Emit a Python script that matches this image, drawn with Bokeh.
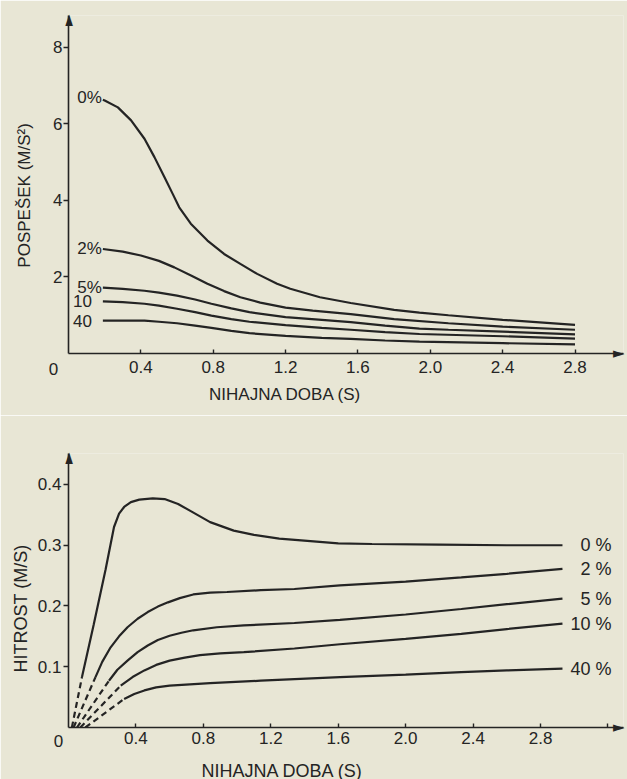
import math
from bokeh.plotting import figure
from bokeh.layouts import column
from bokeh.models import FixedTicker, Label, ColumnDataSource, Range1d
from bokeh.core.properties import value
from bokeh.embed import file_html
from bokeh.resources import INLINE

# ---------------- data: top chart (acceleration, POSPESEK) ----------------
acc_series = ["0%", "2%", "5%", "10", "40"]
acc_t_0 = [0.19, 0.2, 0.273, 0.346, 0.42, 0.475, 0.53, 0.576, 0.612, 0.676, 0.768, 0.86,
           0.95, 1.043, 1.153, 1.226, 1.39, 1.56, 1.8, 1.94, 2.1, 2.4, 2.8]
acc_v_0 = [6.63, 6.61, 6.43, 6.09, 5.61, 5.13, 4.61, 4.17, 3.82, 3.39, 2.95, 2.60,
           2.34, 2.08, 1.82, 1.69, 1.47, 1.32, 1.14, 1.07, 1.0, 0.88, 0.75]
acc_t_2 = [0.19, 0.3, 0.4, 0.5, 0.585, 0.68, 0.768, 0.86, 0.95, 1.06, 1.2, 1.35, 1.56,
           1.8, 2.1, 2.4, 2.8]
acc_v_2 = [2.73, 2.66, 2.56, 2.42, 2.25, 2.03, 1.82, 1.63, 1.47, 1.33, 1.2, 1.12, 1.03,
           0.9, 0.79, 0.70, 0.62]
acc_t_5 = [0.19, 0.3, 0.42, 0.5, 0.6, 0.7, 0.79, 0.9, 1.0, 1.2, 1.4, 1.56, 1.75, 1.94,
           2.1, 2.4, 2.8]
acc_v_5 = [1.72, 1.69, 1.64, 1.59, 1.51, 1.41, 1.30, 1.18, 1.08, 0.95, 0.88, 0.82, 0.73,
           0.65, 0.62, 0.57, 0.50]
acc_t_10 = [0.19, 0.3, 0.42, 0.5, 0.6, 0.7, 0.79, 0.9, 1.0, 1.2, 1.4, 1.56, 1.75, 1.94,
            2.4, 2.8]
acc_v_10 = [1.36, 1.34, 1.30, 1.25, 1.17, 1.08, 0.99, 0.90, 0.83, 0.74, 0.67, 0.62, 0.56,
            0.51, 0.45, 0.39]
acc_t_40 = [0.19, 0.3, 0.42, 0.5, 0.6, 0.7, 0.79, 0.9, 1.0, 1.2, 1.4, 1.56, 1.75, 1.94,
            2.4, 2.8]
acc_v_40 = [0.86, 0.86, 0.86, 0.83, 0.79, 0.73, 0.67, 0.59, 0.53, 0.46, 0.41, 0.38, 0.34,
            0.31, 0.27, 0.24]

acc_x_ticks = [0.4, 0.8, 1.2, 1.6, 2.0, 2.4, 2.8]
acc_x_tick_labels = ["0.4", "0.8", "1.2", "1.6", "2.0", "2.4", "2.8"]
acc_y_ticks = [2, 4, 6, 8]
acc_y_tick_labels = ["2", "4", "6", "8"]
acc_x_title = "NIHAJNA DOBA (S)"
acc_y_title = "POSPEŠEK (M/S²)"

# ---------------- data: bottom chart (velocity, HITROST) ----------------
vel_series = ["0 %", "2 %", "5 %", "10 %", "40 %"]
vel_t_0 = [0.08, 0.15, 0.22, 0.27, 0.30, 0.33, 0.37, 0.42, 0.5, 0.57, 0.65, 0.72, 0.84,
           0.98, 1.1, 1.25, 1.38, 1.6, 1.8, 2.2, 2.6, 2.93]
vel_v_0 = [0.083, 0.17, 0.26, 0.33, 0.352, 0.363, 0.371, 0.375, 0.377, 0.376, 0.368,
           0.357, 0.338, 0.324, 0.317, 0.311, 0.308, 0.303, 0.302, 0.301, 0.300, 0.300]
vel_t_2 = [0.16, 0.2, 0.25, 0.3, 0.35, 0.41, 0.47, 0.53, 0.59, 0.66, 0.74, 0.84, 0.94,
           1.14, 1.34, 1.61, 2.0, 2.33, 2.6, 2.93]
vel_v_2 = [0.083, 0.108, 0.132, 0.15, 0.165, 0.179, 0.19, 0.199, 0.206, 0.213, 0.219,
           0.222, 0.223, 0.226, 0.228, 0.234, 0.240, 0.247, 0.253, 0.261]
vel_t_5 = [0.24, 0.29, 0.35, 0.41, 0.47, 0.53, 0.6, 0.67, 0.74, 0.88, 1.04, 1.34, 1.61,
           2.0, 2.33, 2.6, 2.93]
vel_v_5 = [0.077, 0.095, 0.11, 0.124, 0.135, 0.144, 0.151, 0.156, 0.16, 0.165, 0.168,
           0.172, 0.177, 0.186, 0.195, 0.203, 0.212]
vel_t_10 = [0.31, 0.38, 0.45, 0.52, 0.6, 0.69, 0.78, 0.9, 1.04, 1.34, 1.61, 2.0, 2.33,
            2.6, 2.93]
vel_v_10 = [0.069, 0.083, 0.094, 0.103, 0.11, 0.115, 0.119, 0.122, 0.124, 0.13, 0.137,
            0.146, 0.154, 0.162, 0.171]
vel_t_40 = [0.33, 0.39, 0.45, 0.52, 0.6, 0.72, 0.84, 1.14, 1.61, 2.0, 2.33, 2.6, 2.93]
vel_v_40 = [0.047, 0.055, 0.061, 0.066, 0.069, 0.071, 0.073, 0.077, 0.083, 0.087, 0.091,
            0.094, 0.097]
# dashed starts near the origin (t, v)
vel_dash_t0 = [0.02, 0.03, 0.05, 0.07, 0.10]
vel_dash_v0 = [0.0, 0.0, 0.0, 0.0, 0.0]

vel_x_ticks = [0.4, 0.8, 1.2, 1.6, 2.0, 2.4, 2.8, 3.2]
vel_x_tick_labels = ["0.4", "0.8", "1.2", "1.6", "2.0", "2.4", "2.8", ""]
vel_y_ticks = [0.1, 0.2, 0.3, 0.4]
vel_y_tick_labels = ["0.1", "0.2", "0.3", "0.4"]
vel_x_title = "NIHAJNA DOBA (S)"
vel_y_title = "HITROST (M/S)"
origin_label = "0"
arrow_glyph = "►"

# axis extents (arrow tips)
acc_x_max, acc_y_max = 3.068, 8.83
vel_x_max, vel_y_max = 3.292, 0.451

# ---------------- styling ----------------
BG = "#e8e6d5"
INK = "#242424"
FONT = "Liberation Sans"


def base_fig(w, h, xr, yr, ml, mr, mt, mb, font_px):
    p = figure(width=w, height=h, x_range=Range1d(*xr), y_range=Range1d(*yr),
               output_backend="svg", toolbar_location=None,
               min_border_left=ml, min_border_right=mr, min_border_top=mt,
               min_border_bottom=mb)
    p.background_fill_color = BG
    p.border_fill_color = BG
    p.outline_line_color = None
    p.xgrid.visible = False
    p.ygrid.visible = False
    for ax in (p.xaxis[0], p.yaxis[0]):
        ax.axis_line_color = INK
        ax.axis_line_width = 1.6
        ax.major_tick_line_color = INK
        ax.major_tick_line_width = 1.4
        ax.minor_tick_line_color = None
        ax.major_label_text_font = FONT
        ax.major_label_text_color = INK
        ax.major_label_text_font_size = f"{font_px}px"
    return p


def txt_label(x, y, text, dx, dy, size, angle=0.0, align="center", font=FONT):
    return Label(x=x, y=y, text=text, x_offset=dx, y_offset=dy, angle=angle,
                 text_align=align, text_baseline="middle", text_font=font,
                 text_font_size=f"{size}px", text_color=INK)


# ---------------- top figure ----------------
top = base_fig(627, 415, (0, acc_x_max), (0, acc_y_max), 67, 2, 15, 62, 17)
top.xaxis.ticker = FixedTicker(ticks=acc_x_ticks)
top.xaxis.major_label_overrides = dict(zip(acc_x_ticks, acc_x_tick_labels))
top.xaxis.major_tick_in = 4
top.xaxis.major_tick_out = 0
top.xaxis.major_label_standoff = 7
top.yaxis.ticker = FixedTicker(ticks=acc_y_ticks)
top.yaxis.major_label_overrides = dict(zip(acc_y_ticks, acc_y_tick_labels))
top.yaxis.major_tick_in = 0
top.yaxis.major_tick_out = 5
top.yaxis.major_label_standoff = 1

acc_ts = [acc_t_0, acc_t_2, acc_t_5, acc_t_10, acc_t_40]
acc_vs = [acc_v_0, acc_v_2, acc_v_5, acc_v_10, acc_v_40]
for t, v in zip(acc_ts, acc_vs):
    top.line(t, v, line_color=INK, line_width=2.2)

acc_lab_src = ColumnDataSource(dict(
    x=[t[0] for t in acc_ts], y=[v[0] for v in acc_vs], text=acc_series,
    dx=[-1, -1, -1, -11, -11], dy=[-2, 0, 0, 0, 0]))
top.text(x="x", y="y", text="text", x_offset="dx", y_offset="dy", source=acc_lab_src,
         text_align="right", text_baseline="middle", text_font=value(FONT),
         text_font_size="17px", text_color=INK)

# text annotations live in side panels (drawn at their data positions)
top.add_layout(txt_label(1.2, 0, acc_x_title, 0, -41, 17), "below")
top.add_layout(txt_label(0, 4.13, acc_y_title, -44, 0, 17, math.pi / 2), "left")
top.add_layout(txt_label(0, 0, origin_label, -15, -15, 17), "left")
top.add_layout(txt_label(acc_x_max, 0, arrow_glyph, 1, 1, 15, align="right",
                         font="DejaVu Sans"), "left")
top.add_layout(txt_label(0, acc_y_max, arrow_glyph, -1, 1, 15, math.pi / 2,
                         align="right", font="DejaVu Sans"), "above")

# ---------------- bottom figure ----------------
bot = base_fig(627, 364, (0, vel_x_max), (0, vel_y_max), 68, 4, 38, 52, 17)
bot.xaxis.ticker = FixedTicker(ticks=vel_x_ticks)
bot.xaxis.major_label_overrides = dict(zip(vel_x_ticks, vel_x_tick_labels))
bot.xaxis.major_tick_in = 4
bot.xaxis.major_tick_out = 0
bot.xaxis.major_label_standoff = 4
bot.yaxis.ticker = FixedTicker(ticks=vel_y_ticks)
bot.yaxis.major_label_overrides = dict(zip(vel_y_ticks, vel_y_tick_labels))
bot.yaxis.major_tick_in = 0
bot.yaxis.major_tick_out = 5
bot.yaxis.major_label_standoff = 2

vel_ts = [vel_t_0, vel_t_2, vel_t_5, vel_t_10, vel_t_40]
vel_vs = [vel_v_0, vel_v_2, vel_v_5, vel_v_10, vel_v_40]
for i, (t, v) in enumerate(zip(vel_ts, vel_vs)):
    bot.line(t, v, line_color=INK, line_width=2.2)
    bot.line([vel_dash_t0[i], t[0]], [vel_dash_v0[i], v[0]], line_color=INK,
             line_width=2.2, line_dash="6 4")

vel_lab_src = ColumnDataSource(dict(
    x=[t[-1] for t in vel_ts], y=[v[-1] for v in vel_vs], text=vel_series))
bot.text(x="x", y="y", text="text", x_offset=49, source=vel_lab_src,
         text_align="right", text_baseline="middle", text_font=value(FONT),
         text_font_size="18px", text_color=INK)

bot.add_layout(txt_label(1.27, 0, vel_x_title, 0, -43, 18), "below")
bot.add_layout(txt_label(0, 0.196, vel_y_title, -48, 0, 18, math.pi / 2), "left")
bot.add_layout(txt_label(0, 0, origin_label, -10, -13, 17), "left")
bot.add_layout(txt_label(0, vel_y_max, arrow_glyph, -1, 1, 15, math.pi / 2,
                         align="right", font="DejaVu Sans"), "above")
bot.add_layout(txt_label(vel_x_max, 0, arrow_glyph, 1, 1, 15, align="right",
                         font="DejaVu Sans"), "above")

layout = column(top, bot, spacing=0)
open("out.html", "w").write(file_html(layout, INLINE, title="Pospešek in hitrost"))
